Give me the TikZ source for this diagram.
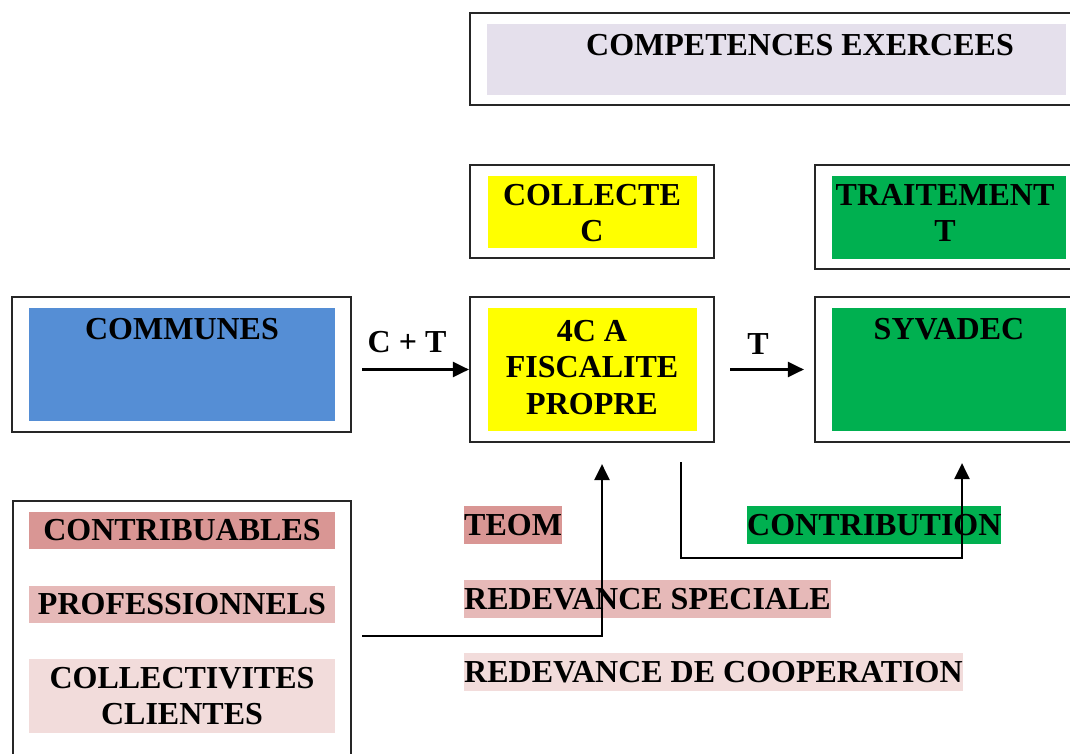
\documentclass[tikz,border=0pt]{standalone}
\usepackage{fontspec}
\setmainfont{Liberation Serif}
\usetikzlibrary{arrows.meta}
\definecolor{lavender}{HTML}{E5E0EC}
\definecolor{ayellow}{HTML}{FFFF00}
\definecolor{agreen}{HTML}{00B050}
\definecolor{ablue}{HTML}{558ED5}
\definecolor{pinkdark}{HTML}{D99694}
\definecolor{pinkmid}{HTML}{E6B9B8}
\definecolor{pinklight}{HTML}{F2DCDB}
\begin{document}
\begin{tikzpicture}[
    x=1pt, y=-1pt,
    frame/.style={rectangle, draw=black!85, line width=2.2pt, inner sep=0pt},
    panel/.style={rectangle, inner sep=0pt},
    title/.style={anchor=north, inner sep=0pt, align=center, font=\fontsize{32}{36.5}\selectfont\bfseries},
    tag/.style={rectangle, inner sep=0pt, minimum height=38pt, align=center, font=\fontsize{32}{36.5}\selectfont\bfseries},
    flow/.style={line width=2.4pt, -{Triangle[length=16pt, width=15pt]}}
  ]
    \useasboundingbox (0,0) rectangle (1070,754);
    \clip (0,0) rectangle (1070,754);

    % Competences
    \node[frame, minimum width=613pt, minimum height=92pt] (comp) at (776.5,59) {};
    \node[panel, fill=lavender, minimum width=579pt, minimum height=71pt] (compfill) at (776.5,59.5) {};
    \node[title] (comptext) at (800,34) {COMPETENCES EXERCEES};

    \node[frame, minimum width=244pt, minimum height=93pt] (collecte) at (592,211.5) {};
    \node[panel, fill=ayellow, minimum width=209pt, minimum height=72pt] (collectefill) at (592.5,212) {};
    \node[title] (collectetext) at (592,184) {COLLECTE\\C};

    \node[frame, minimum width=268pt, minimum height=104pt] (traitement) at (949,217) {};
    \node[panel, fill=agreen, minimum width=234pt, minimum height=83pt] (traitementfill) at (949,217.5) {};
    \node[title] (traitementtext) at (945,184) {TRAITEMENT\\T};

    % Acteurs
    \node[frame, minimum width=339pt, minimum height=135pt] (communes) at (181.5,364.5) {};
    \node[panel, fill=ablue, minimum width=306pt, minimum height=113pt] (communesfill) at (182,364.5) {};
    \node[title] (communestext) at (182,318) {COMMUNES};

    \node[frame, minimum width=244pt, minimum height=145pt] (fourc) at (592,369.5) {};
    \node[panel, fill=ayellow, minimum width=209pt, minimum height=123pt] (fourcfill) at (592.5,369.5) {};
    \node[title] (fourctext) at (592,320) {4C A\\FISCALITE\\PROPRE};

    \node[frame, minimum width=268pt, minimum height=145pt] (syvadec) at (949,369.5) {};
    \node[panel, fill=agreen, minimum width=234pt, minimum height=123pt] (syvadecfill) at (949,369.5) {};
    \node[title] (syvadectext) at (949,318) {SYVADEC};

    \node[title] (ctlabel) at (407,331) {C + T};
    \node[title] (tlabel) at (758,333) {T};

    % Contribuables
    \node[frame, minimum width=338pt, minimum height=279pt] (payers) at (182,640.5) {};
    \node[tag, fill=pinkdark, minimum width=306pt, minimum height=37pt] (contribuables) at (182,530.5) {CONTRIBUABLES};
    \node[tag, fill=pinkmid, minimum width=306pt, minimum height=37pt] (professionnels) at (182,604.5) {PROFESSIONNELS};
    \node[tag, fill=pinklight, minimum width=306pt, minimum height=74pt] (collectivites) at (182,696) {COLLECTIVITES\\CLIENTES};

    % Financements
    \node[tag, fill=pinkdark, anchor=west] (teom) at (464,525) {TEOM};
    \node[tag, fill=pinkmid, anchor=west] (speciale) at (464,599) {REDEVANCE SPECIALE};
    \node[tag, fill=pinklight, anchor=west] (cooperation) at (464,672) {REDEVANCE DE COOPERATION};
    \node[tag, fill=agreen, anchor=west] (contribution) at (747,525) {CONTRIBUTION};

    % Flux
    \draw[flow] ([xshift=10pt]communes.east |- fourc.west) -- (fourc.west);
    \draw[flow] ([xshift=15pt]fourc.east) -- ([xshift=-10pt]syvadec.west);
    \coordinate (feed) at (362,636);
    \draw[flow] (feed) -| ([xshift=10pt,yshift=-21pt]fourc.south);
    \draw[flow] ([xshift=89pt,yshift=-19pt]fourc.south) -- ++(0,96) -| ([xshift=13pt,yshift=-20pt]syvadec.south);
  \end{tikzpicture}
\end{document}
